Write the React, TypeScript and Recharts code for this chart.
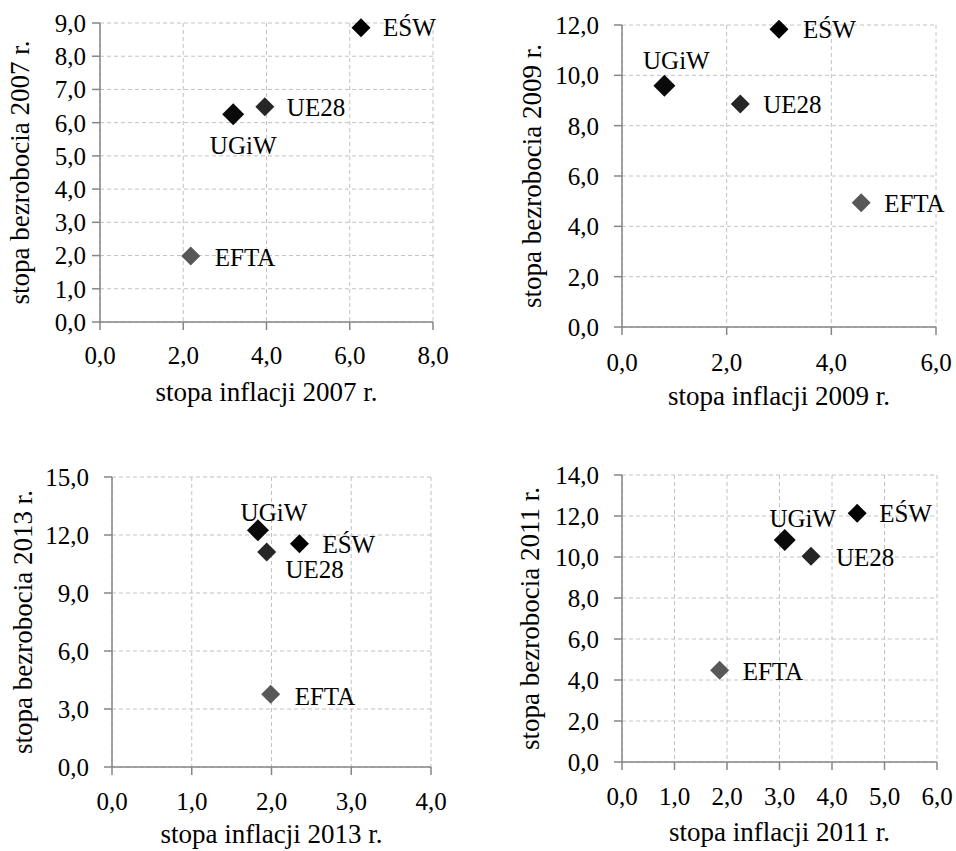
import React from 'react';
import { ScatterChart, Scatter, XAxis, YAxis, CartesianGrid, Label } from 'recharts';

// ---------- data ----------
const groups = ['EŚW', 'UGiW', 'UE28', 'EFTA'];

const inflation2007 = [6.27, 3.2, 3.96, 2.18];
const unemployment2007 = [8.86, 6.25, 6.48, 1.99];

const inflation2009 = [3.0, 0.81, 2.26, 4.57];
const unemployment2009 = [11.83, 9.59, 8.86, 4.94];

const inflation2013 = [2.35, 1.83, 1.94, 1.99];
const unemployment2013 = [11.55, 12.24, 11.12, 3.76];

const inflation2011 = [4.48, 3.1, 3.6, 1.86];
const unemployment2011 = [12.13, 10.83, 10.04, 4.48];

const xTicks2007 = [0, 2, 4, 6, 8];
const yTicks2007 = [0, 1, 2, 3, 4, 5, 6, 7, 8, 9];
const xTicks2009 = [0, 2, 4, 6];
const yTicks2009 = [0, 2, 4, 6, 8, 10, 12];
const xTicks2013 = [0, 1, 2, 3, 4];
const yTicks2013 = [0, 3, 6, 9, 12, 15];
const xTicks2011 = [0, 1, 2, 3, 4, 5, 6];
const yTicks2011 = [0, 2, 4, 6, 8, 10, 12, 14];

// ---------- styles ----------
const FONT = 'Liberation Serif';
const markerColor: Record<string, string> = {
  'EŚW': '#000000',
  'UGiW': '#0a0a0a',
  'UE28': '#262626',
  'EFTA': '#585858',
};
const markerHalf: Record<string, number> = { 'EŚW': 9.5, 'UGiW': 11, 'UE28': 9.5, 'EFTA': 9.5 };

type Place = { dx: number; dy: number; anchor: 'start' | 'middle' | 'end' };
const place2007: Record<string, Place> = {
  'EŚW': { dx: 22, dy: 0, anchor: 'start' },
  'UGiW': { dx: 10, dy: 31, anchor: 'middle' },
  'UE28': { dx: 22, dy: 1, anchor: 'start' },
  'EFTA': { dx: 24, dy: 2, anchor: 'start' },
};
const place2009: Record<string, Place> = {
  'EŚW': { dx: 24, dy: 0, anchor: 'start' },
  'UGiW': { dx: 12, dy: -25, anchor: 'middle' },
  'UE28': { dx: 23, dy: 0, anchor: 'start' },
  'EFTA': { dx: 23, dy: 1, anchor: 'start' },
};
const place2013: Record<string, Place> = {
  'EŚW': { dx: 23, dy: 1, anchor: 'start' },
  'UGiW': { dx: 16, dy: -18, anchor: 'middle' },
  'UE28': { dx: 48, dy: 17, anchor: 'middle' },
  'EFTA': { dx: 24, dy: 2, anchor: 'start' },
};
const place2011: Record<string, Place> = {
  'EŚW': { dx: 22, dy: 0, anchor: 'start' },
  'UGiW': { dx: 18, dy: -21, anchor: 'middle' },
  'UE28': { dx: 25, dy: 1, anchor: 'start' },
  'EFTA': { dx: 23, dy: 1, anchor: 'start' },
};

const fmt = (v: number) => v.toFixed(1).replace('.', ',');

const tickStyle = { fontSize: 25, fill: '#000', fontFamily: FONT };

function DiamondWithLabel(props: any) {
  const { cx, cy, name, place } = props;
  if (cx == null || cy == null) return null;
  const h = markerHalf[name];
  const pts = `${cx},${cy - h} ${cx + h},${cy} ${cx},${cy + h} ${cx - h},${cy}`;
  return (
    <g>
      <polygon points={pts} fill={markerColor[name]} />
      <text
        x={cx + place.dx}
        y={cy + place.dy}
        dy="0.34em"
        textAnchor={place.anchor}
        fontSize={25}
        fontFamily={FONT}
        fill="#000"
      >
        {name}
      </text>
    </g>
  );
}

type PanelProps = {
  left: number;
  top: number;
  margin: { top: number; right: number; bottom: number; left: number };
  xs: number[];
  ys: number[];
  xTicks: number[];
  yTicks: number[];
  xTitle: string;
  yTitle: string;
  yTitleX: number;
  xTitleY: number;
  yTickMargin: number;
  xTickMargin: number;
  place: Record<string, Place>;
};

function Panel(p: PanelProps) {
  const xMax = p.xTicks[p.xTicks.length - 1];
  const yMax = p.yTicks[p.yTicks.length - 1];
  return (
    <div style={{ position: 'absolute', left: p.left, top: p.top }}>
      <ScatterChart width={478} height={425} margin={p.margin}>
        <CartesianGrid stroke="#c2c2c2" strokeDasharray="4 3" />
        <XAxis
          type="number"
          dataKey="x"
          domain={[0, xMax]}
          ticks={p.xTicks}
          interval={0}
          tickFormatter={fmt}
          stroke="#868686"
          strokeWidth={1.5}
          tickSize={8}
          tickMargin={p.xTickMargin}
          tick={tickStyle}
          height={60}
        >
          <Label
            content={(lp: any) => {
              const vb = lp.viewBox || {};
              return (
                <text
                  x={vb.x + vb.width / 2}
                  y={p.xTitleY}
                  textAnchor="middle"
                  fontSize={27}
                  fontFamily={FONT}
                  fill="#000"
                >
                  {p.xTitle}
                </text>
              );
            }}
          />
        </XAxis>
        <YAxis
          type="number"
          dataKey="y"
          domain={[0, yMax]}
          ticks={p.yTicks}
          interval={0}
          tickFormatter={fmt}
          stroke="#868686"
          strokeWidth={1.5}
          tickSize={8}
          tickMargin={p.yTickMargin}
          tick={tickStyle}
          width={80}
        >
          <Label
            content={(lp: any) => {
              const vb = lp.viewBox || {};
              const cy = vb.y + vb.height / 2;
              return (
                <text
                  x={p.yTitleX}
                  y={cy}
                  transform={`rotate(-90, ${p.yTitleX}, ${cy})`}
                  textAnchor="middle"
                  fontSize={27}
                  fontFamily={FONT}
                  fill="#000"
                >
                  {p.yTitle}
                </text>
              );
            }}
          />
        </YAxis>
        {groups.map((g, i) => (
          <Scatter
            key={g}
            name={g}
            data={[{ x: p.xs[i], y: p.ys[i] }]}
            isAnimationActive={false}
            shape={(sp: any) => <DiamondWithLabel {...sp} name={g} place={p.place[g]} />}
          />
        ))}
      </ScatterChart>
    </div>
  );
}

export default function App() {
  return (
    <div
      style={{
        position: 'absolute',
        left: 0,
        top: 0,
        width: 956,
        height: 851,
        background: '#fff',
        fontFamily: FONT,
        overflow: 'hidden',
      }}
    >
      <Panel
        left={0}
        top={0}
        margin={{ top: 23, right: 45, bottom: 43, left: 20 }}
        xs={inflation2007}
        ys={unemployment2007}
        xTicks={xTicks2007}
        yTicks={yTicks2007}
        xTitle="stopa inflacji 2007 r."
        yTitle="stopa bezrobocia 2007 r."
        yTitleX={29}
        xTitleY={401}
        yTickMargin={6}
        xTickMargin={16}
        place={place2007}
      />
      <Panel
        left={478}
        top={0}
        margin={{ top: 25, right: 20, bottom: 38, left: 64 }}
        xs={inflation2009}
        ys={unemployment2009}
        xTicks={xTicks2009}
        yTicks={yTicks2009}
        xTitle="stopa inflacji 2009 r."
        yTitle="stopa bezrobocia 2009 r."
        yTitleX={63}
        xTitleY={405}
        yTickMargin={15}
        xTickMargin={18}
        place={place2009}
      />
      <Panel
        left={0}
        top={426}
        margin={{ top: 51, right: 47, bottom: 24, left: 32 }}
        xs={inflation2013}
        ys={unemployment2013}
        xTicks={xTicks2013}
        yTicks={yTicks2013}
        xTitle="stopa inflacji 2013 r."
        yTitle="stopa bezrobocia 2013 r."
        yTitleX={32}
        xTitleY={417}
        yTickMargin={15}
        xTickMargin={17}
        place={place2013}
      />
      <Panel
        left={478}
        top={426}
        margin={{ top: 49, right: 19, bottom: 29, left: 64 }}
        xs={inflation2011}
        ys={unemployment2011}
        xTicks={xTicks2011}
        yTicks={yTicks2011}
        xTitle="stopa inflacji 2011 r."
        yTitle="stopa bezrobocia 2011 r."
        yTitleX={61}
        xTitleY={415}
        yTickMargin={15}
        xTickMargin={17}
        place={place2011}
      />
    </div>
  );
}
